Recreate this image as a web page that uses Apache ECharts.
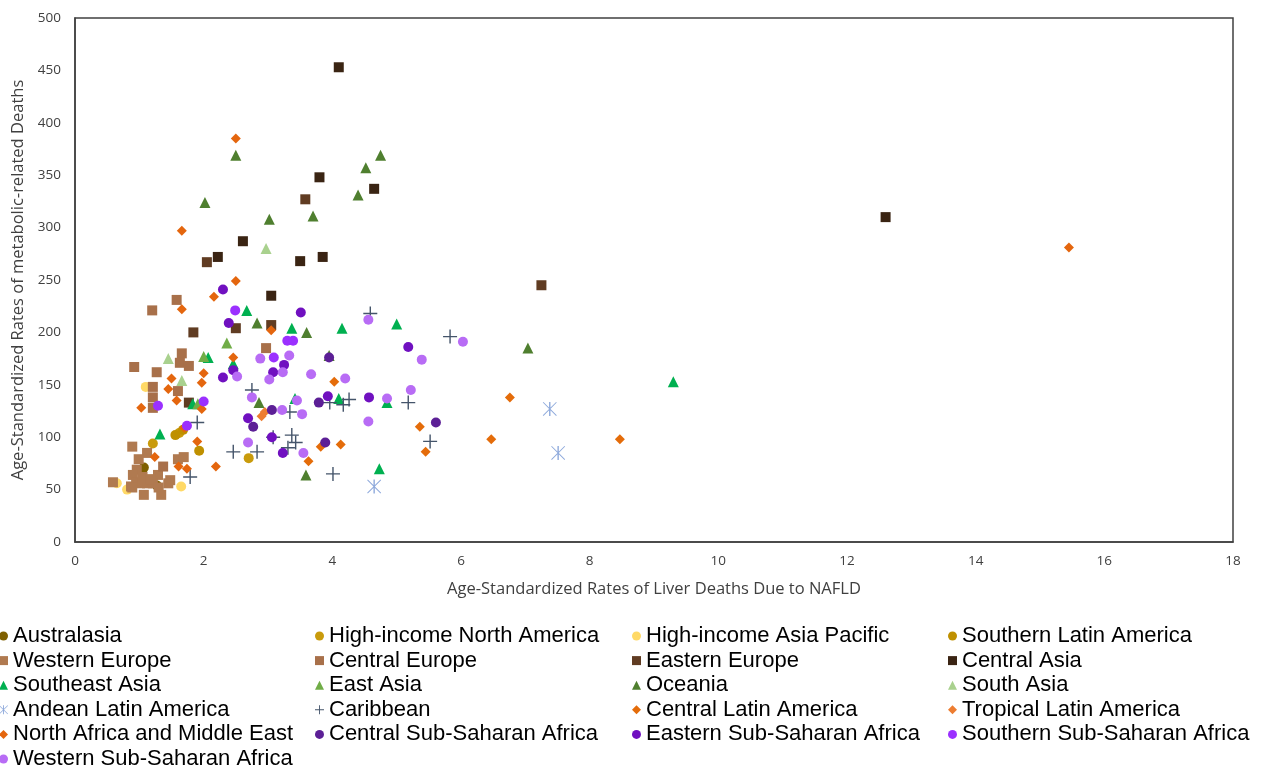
<!DOCTYPE html>
<html>
<head>
<meta charset="utf-8">
<script src="https://cdn.jsdelivr.net/npm/echarts@6/dist/echarts.min.js"></script>
<style>
  html, body { margin: 0; padding: 0; background: #fff; }
  #main { width: 1268px; height: 768px; }
</style>
</head>
<body>
<div id="main"></div>
<script>
// axis ticks
var xTicks = [0, 2, 4, 6, 8, 10, 12, 14, 16, 18];
var yTicks = [0, 50, 100, 150, 200, 250, 300, 350, 400, 450, 500];

// [liver deaths due to NAFLD, metabolic-related deaths] per country, by region
var australasia = [[1.07, 71], [1.27, 54]];
var hiNorthAmerica = [[1.62, 104], [1.21, 94], [2.7, 80]];
var hiAsiaPacific = [[1.1, 148], [0.65, 56], [0.81, 50], [1.65, 53]];
var southernLatAm = [[1.93, 87], [1.68, 107], [1.56, 102]];
var westernEurope = [[0.89, 91], [1.12, 85], [0.99, 79], [1.6, 79], [1.69, 81], [0.96, 69], [0.9, 64],
  [1.29, 64], [1.48, 59], [1.45, 56], [0.59, 57], [0.87, 53], [0.95, 57], [1.01, 56], [1.12, 56],
  [1.21, 56], [1.07, 45], [1.34, 45], [0.89, 52], [1.05, 62], [1.18, 60], [1.3, 52]];
var centralEurope = [[1.58, 231], [1.2, 221], [1.66, 180], [1.63, 171], [1.77, 168], [0.92, 167],
  [1.27, 162], [2.97, 185], [1.6, 144], [1.21, 148], [1.21, 138], [1.21, 128], [1.37, 72]];
var easternEurope = [[3.58, 327], [2.05, 267], [7.25, 245], [3.05, 207], [2.5, 204], [1.84, 200], [1.77, 133]];
var centralAsia = [[4.1, 453], [3.8, 348], [4.65, 337], [12.6, 310], [2.61, 287], [2.22, 272],
  [3.5, 268], [3.85, 272], [3.05, 235]];
var southeastAsia = [[2.67, 221], [3.37, 204], [4.15, 204], [5.0, 208], [2.07, 176], [1.32, 103],
  [1.83, 132], [3.42, 137], [4.1, 137], [4.85, 133], [4.73, 70], [9.3, 153], [2.46, 170]];
var eastAsia = [[2.36, 190], [2.0, 177], [1.91, 132]];
var oceania = [[2.5, 369], [4.75, 369], [4.52, 357], [4.4, 331], [2.02, 324], [3.7, 311], [3.02, 308],
  [2.83, 209], [3.6, 200], [3.95, 178], [7.04, 185], [2.86, 133], [3.59, 64]];
var southAsia = [[2.97, 280], [1.45, 175], [1.66, 154]];
var andeanLatAm = [[7.38, 127], [7.51, 85], [4.65, 53]];
var caribbean = [[4.59, 218], [5.83, 196], [2.75, 145], [3.96, 133], [4.17, 131], [4.26, 136],
  [5.18, 133], [3.34, 124], [3.37, 102], [3.43, 95], [3.08, 100], [5.52, 96], [2.46, 86],
  [2.83, 86], [3.31, 90], [4.01, 65], [1.9, 114], [1.79, 62]];
var centralLatAm = [[6.76, 138], [6.47, 98], [8.47, 98], [5.36, 110], [5.45, 86], [3.82, 91],
  [4.13, 93], [3.63, 77], [4.03, 153]];
var tropicalLatAm = [[2.9, 120], [2.95, 124]];
var northAfricaME = [[2.5, 385], [15.45, 281], [1.66, 297], [2.5, 249], [2.16, 234], [1.66, 222],
  [3.05, 202], [2.46, 176], [2.0, 161], [1.5, 156], [1.97, 152], [1.45, 146], [1.58, 135],
  [1.03, 128], [1.97, 127], [1.7, 109], [1.9, 96], [1.24, 81], [1.61, 72], [1.74, 70], [2.19, 72]];
var centralSSA = [[3.95, 176], [3.79, 133], [3.06, 126], [2.77, 110], [3.89, 95], [5.61, 114]];
var easternSSA = [[2.3, 241], [3.51, 219], [2.39, 209], [5.18, 186], [3.25, 169], [3.08, 162],
  [2.46, 164], [2.3, 157], [3.93, 139], [4.57, 138], [2.69, 118], [3.06, 100], [3.23, 85]];
var southernSSA = [[2.49, 221], [3.3, 192], [3.39, 192], [3.09, 176], [1.29, 130], [2.0, 134], [1.74, 111]];
var westernSSA = [[4.56, 212], [6.03, 191], [5.39, 174], [2.88, 175], [3.33, 178], [2.52, 158],
  [3.23, 162], [3.02, 155], [3.67, 160], [4.2, 156], [5.22, 145], [2.75, 138], [3.45, 135],
  [4.85, 137], [3.22, 126], [3.53, 122], [4.56, 115], [2.69, 95], [3.55, 85]];

var plusPath = "path://M0,9h20v2h-20z M9,0h2v20h-2z";
var starPath = "path://M9,0h2v20h-2z M0,1L1,0L20,19L19,20Z M19,0L20,1L1,20L0,19Z";

var regions = [
  { name: "Australasia", data: australasia, symbol: "circle", color: "#7f6000" },
  { name: "High-income North America", data: hiNorthAmerica, symbol: "circle", color: "#c99b0c" },
  { name: "High-income Asia Pacific", data: hiAsiaPacific, symbol: "circle", color: "#ffd966" },
  { name: "Southern Latin America", data: southernLatAm, symbol: "circle", color: "#bf9000" },
  { name: "Western Europe", data: westernEurope, symbol: "rect", color: "#b07a50" },
  { name: "Central Europe", data: centralEurope, symbol: "rect", color: "#a8704a" },
  { name: "Eastern Europe", data: easternEurope, symbol: "rect", color: "#603c22" },
  { name: "Central Asia", data: centralAsia, symbol: "rect", color: "#3a2413" },
  { name: "Southeast Asia", data: southeastAsia, symbol: "triangle", color: "#00b050" },
  { name: "East Asia", data: eastAsia, symbol: "triangle", color: "#70ad47" },
  { name: "Oceania", data: oceania, symbol: "triangle", color: "#4f7f2f" },
  { name: "South Asia", data: southAsia, symbol: "triangle", color: "#a9d18e" },
  { name: "Andean Latin America", data: andeanLatAm, symbol: starPath, color: "#8faadc" },
  { name: "Caribbean", data: caribbean, symbol: plusPath, color: "#44546a" },
  { name: "Central Latin America", data: centralLatAm, symbol: "diamond", color: "#e46c0a" },
  { name: "Tropical Latin America", data: tropicalLatAm, symbol: "diamond", color: "#ed7d31" },
  { name: "North Africa and Middle East", data: northAfricaME, symbol: "diamond", color: "#e4660e" },
  { name: "Central Sub-Saharan Africa", data: centralSSA, symbol: "circle", color: "#5c1f96" },
  { name: "Eastern Sub-Saharan Africa", data: easternSSA, symbol: "circle", color: "#7010c0" },
  { name: "Southern Sub-Saharan Africa", data: southernSSA, symbol: "circle", color: "#9b30ff" },
  { name: "Western Sub-Saharan Africa", data: westernSSA, symbol: "circle", color: "#b86cf5" }
];

function symSize(sym) {
  if (sym === plusPath || sym === starPath) return 14;
  if (sym === "triangle") return 11;
  return 10;
}

// four legend columns, as in the original figure
var legendCols = [
  ["Australasia", "Western Europe", "Southeast Asia", "Andean Latin America", "North Africa and Middle East", "Western Sub-Saharan Africa"],
  ["High-income North America", "Central Europe", "East Asia", "Caribbean", "Central Sub-Saharan Africa"],
  ["High-income Asia Pacific", "Eastern Europe", "Oceania", "Central Latin America", "Eastern Sub-Saharan Africa"],
  ["Southern Latin America", "Central Asia", "South Asia", "Tropical Latin America", "Southern Sub-Saharan Africa"]
];
var legendLeft = [-1, 315, 632, 948];

var myChart = echarts.init(document.getElementById("main"));

var option = {
  animation: false,
  backgroundColor: "#ffffff",
  textStyle: { fontFamily: "Liberation Sans, Arial, sans-serif" },
  grid: {
    left: 75, right: 35, top: 18, bottom: 226,
    show: true, borderColor: "#404040", borderWidth: 1.5
  },
  legend: legendCols.map(function (col, i) {
    return {
      data: col,
      orient: "vertical",
      left: legendLeft[i],
      top: 625,
      height: 300,
      itemWidth: 9,
      itemHeight: 9,
      itemGap: 2.6,
      padding: 0,
      textStyle: { fontSize: 22, color: "#000", lineHeight: 22, fontFamily: "Liberation Sans, Arial, sans-serif" }
    };
  }),
  xAxis: {
    type: "value",
    min: xTicks[0],
    max: xTicks[xTicks.length - 1],
    interval: 2,
    name: "Age-Standardized Rates of Liver Deaths Due to NAFLD",
    nameLocation: "middle",
    nameGap: 39,
    nameTextStyle: { fontSize: 16.5, color: "#404040", fontFamily: "Open Sans" },
    axisLine: { show: true, lineStyle: { color: "#404040", width: 1.5 } },
    axisTick: { show: false },
    splitLine: { show: false },
    axisLabel: { fontSize: 13.5, color: "#404040", margin: 12, fontFamily: "Open Sans" }
  },
  yAxis: {
    type: "value",
    min: yTicks[0],
    max: yTicks[yTicks.length - 1],
    interval: 50,
    name: "Age-Standardized Rates of metabolic-related Deaths",
    nameLocation: "middle",
    nameGap: 47,
    nameTextStyle: { fontSize: 16.5, color: "#404040", fontFamily: "Open Sans" },
    axisLine: { show: true, lineStyle: { color: "#404040", width: 1.5 } },
    axisTick: { show: false },
    splitLine: { show: false },
    axisLabel: { fontSize: 13.5, color: "#404040", margin: 14, fontFamily: "Open Sans" }
  },
  series: regions.map(function (r) {
    return {
      name: r.name,
      type: "scatter",
      data: r.data,
      symbol: r.symbol,
      symbolSize: symSize(r.symbol),
      itemStyle: { color: r.color, opacity: 1 }
    };
  })
};

myChart.setOption(option);
</script>
</body>
</html>
